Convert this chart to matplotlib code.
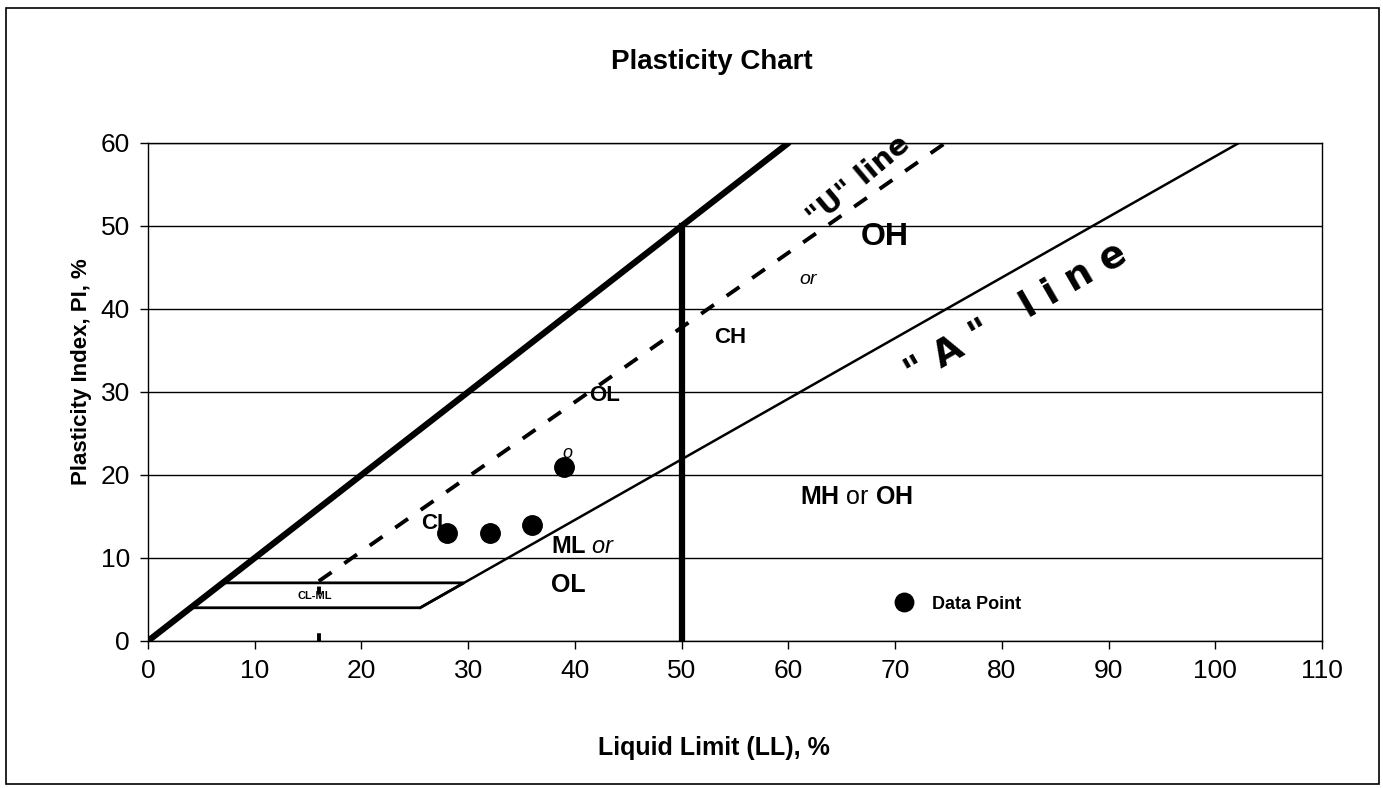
"""
Plasticity chart (Casagrande) with a few soil samples
"""

import matplotlib
matplotlib.use("Agg")
import matplotlib.pyplot as plt
from matplotlib.patches import Polygon, Rectangle

plt.rcParams["font.family"] = ["Liberation Sans", "DejaVu Sans"]
plt.rcParams["mathtext.fontset"] = "custom"
plt.rcParams["mathtext.rm"] = "Liberation Sans"
plt.rcParams["mathtext.bf"] = "Liberation Sans:bold"
plt.rcParams["mathtext.it"] = "Liberation Sans:italic"

# samples: liquid limit and plasticity index
sample_ll = [28, 32, 36, 39]
sample_pi = [13, 13, 14, 21]

# reference lines of the chart
upper_ll = [0, 60]
upper_pi = [0, 60]
split_ll = [50, 50]
split_pi = [0, 50]
a_line_ll = [25.5, 102.2]
a_line_pi = [4, 60]
u_line_ll = [16, 74.7]
u_line_pi = [7.2, 60]
u_foot_ll = [16, 16]
u_foot_pi = [0, 7.2]
clml_ll = [4, 25.5, 29.6, 7]
clml_pi = [4, 4, 7, 7]

x_ticks = list(range(0, 111, 10))
y_ticks = list(range(0, 61, 10))


def main():
    fig = plt.figure(figsize=(13.83, 7.88), dpi=100)
    ax = fig.add_axes([0.107, 0.1866, 0.849, 0.632])

    ax.set_xlim(0, 110)
    ax.set_ylim(0, 60)
    ax.set_xticks(x_ticks)
    ax.set_yticks(y_ticks)
    ax.tick_params(labelsize=19, length=6, width=1, direction="out", pad=7)
    ax.yaxis.grid(True, color="black", lw=1)
    ax.set_axisbelow(True)
    for sp in ax.spines.values():
        sp.set_linewidth(1)

    # CL-ML zone
    ax.add_patch(Polygon(list(zip(clml_ll, clml_pi)), closed=True,
                         facecolor="white", edgecolor="black", lw=2, zorder=2))
    ax.text(15.6, 5.4, "CL-ML", fontsize=8, fontweight="bold",
            ha="center", va="center", zorder=3)

    ax.plot(upper_ll, upper_pi, color="black", lw=4.5, solid_capstyle="round", zorder=3)
    ax.plot(split_ll, split_pi, color="black", lw=4.5, zorder=3)
    ax.plot(a_line_ll, a_line_pi, color="black", lw=1.8, zorder=3)
    ax.plot(u_line_ll, u_line_pi, color="black", lw=2.8, dashes=(4, 4), zorder=3)
    ax.plot(u_foot_ll, u_foot_pi, color="black", lw=2.8, dashes=(2, 10), zorder=3)

    ax.plot(sample_ll, sample_pi, "o", color="black", ms=14, ls="none",
            label="Data Point", zorder=5)

    # zone labels
    ax.text(25.6, 14.2, "CL", fontsize=16, fontweight="bold", va="center", zorder=4)
    ax.text(41.3, 29.6, "OL", fontsize=16, fontweight="bold", va="center", zorder=4)
    ax.text(38.8, 22.6, "o", fontsize=13, style="italic", va="center", zorder=4)
    ax.text(53.0, 36.6, "CH", fontsize=16, fontweight="bold", va="center")
    ax.text(61.0, 43.6, "or", fontsize=14, style="italic", va="center")
    ax.text(66.8, 48.7, "OH", fontsize=23, fontweight="bold", va="center")
    ax.text(37.8, 11.3, r"$\mathbf{ML}$ $\mathit{or}$", fontsize=17, va="center")
    ax.text(37.8, 6.7, "OL", fontsize=18, fontweight="bold", va="center")
    ax.text(61.1, 17.3, r"$\mathbf{MH}$ or $\mathbf{OH}$", fontsize=18, va="center")

    ax.text(81.3, 39.4, '" A "   l i n e', fontsize=27, fontweight="heavy",
            family="DejaVu Sans", rotation=30, rotation_mode="anchor",
            ha="center", va="center")
    ax.text(66.6, 55.4, '"U" line', fontsize=21, fontweight="heavy",
            family="DejaVu Sans Condensed", rotation=40, rotation_mode="anchor",
            ha="center", va="center")

    ax.legend(loc="center left", bbox_to_anchor=(0.622, 0.074), frameon=False,
              prop={"size": 13, "weight": "bold"}, handletextpad=0.6,
              borderaxespad=0, markerscale=0.95)

    ax.set_xlabel("Liquid Limit (LL), %", fontsize=18, fontweight="bold", labelpad=38)
    ax.set_ylabel("Plasticity Index, PI, %", fontsize=16, fontweight="bold", labelpad=6)
    ax.xaxis.label.set_x(0.482)
    ax.yaxis.label.set_y(0.54)
    fig.text(0.515, 0.921, "Plasticity Chart", fontsize=20, fontweight="bold",
             ha="center", va="center")

    fig.patches.append(Rectangle((0.004, 0.005), 0.993, 0.985, fill=False,
                                 edgecolor="black", lw=1.2,
                                 transform=fig.transFigure, figure=fig))

    fig.savefig("out.png", dpi=100)


if __name__ == '__main__':
    main()
